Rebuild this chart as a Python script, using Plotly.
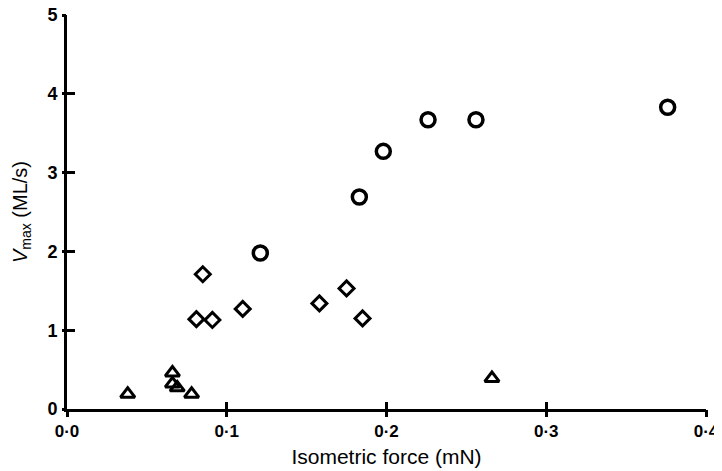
import plotly.graph_objects as go

# Data
circle_x = [0.121, 0.183, 0.198, 0.226, 0.256, 0.376]
circle_y = [1.98, 2.69, 3.27, 3.67, 3.67, 3.83]

diamond_x = [0.085, 0.081, 0.091, 0.110, 0.158, 0.175, 0.185]
diamond_y = [1.71, 1.14, 1.13, 1.27, 1.34, 1.53, 1.15]

triangle_x = [0.038, 0.066, 0.066, 0.069, 0.078, 0.266]
triangle_y = [0.19, 0.46, 0.32, 0.27, 0.19, 0.39]

x_tickvals = [0.0, 0.1, 0.2, 0.3, 0.4]
x_ticktext = ["0·0", "0·1", "0·2", "0·3", "0·4"]
y_tickvals = [0, 1, 2, 3, 4, 5]
y_ticktext = ["0", "1", "2", "3", "4", "5"]

FONT = "Liberation Sans, Arial, sans-serif"

fig = go.Figure()
fig.add_trace(go.Scatter(x=circle_x, y=circle_y, mode="markers",
                         marker=dict(symbol="circle-open", size=14, color="black",
                                     line=dict(width=3.5, color="black")),
                         cliponaxis=False))
fig.add_trace(go.Scatter(x=diamond_x, y=diamond_y, mode="markers",
                         marker=dict(symbol="diamond-open", size=11.5, color="black",
                                     line=dict(width=3, color="black")),
                         cliponaxis=False))
fig.add_trace(go.Scatter(x=triangle_x, y=triangle_y, mode="markers",
                         marker=dict(symbol="triangle-up-open", size=12.5, color="black",
                                     line=dict(width=3, color="black")),
                         cliponaxis=False))
# invisible trace on the overlay axes so their outside tick marks render
fig.add_trace(go.Scatter(x=[0.2], y=[2.5], xaxis="x2", yaxis="y2",
                         mode="markers", marker=dict(opacity=0), hoverinfo="skip"))

axis_common = dict(showgrid=False, zeroline=False, color="black", automargin=False,
                   ticklabeloverflow="allow")

# The page body has an 8px margin, so the figure is sized/offset to compensate.
fig.update_layout(
    width=714, height=463,
    margin=dict(l=59, r=16, t=7, b=62),
    paper_bgcolor="white", plot_bgcolor="white",
    showlegend=False,
    font=dict(family=FONT, color="black"),
    xaxis=dict(range=[0, 0.4], tickvals=x_tickvals, ticktext=x_ticktext,
               ticks="inside", ticklen=7, tickwidth=3, tickcolor="black",
               showline=True, linewidth=3, linecolor="black",
               ticklabelstandoff=5,
               tickfont=dict(size=17, family=FONT, weight="bold"),
               title=dict(text="Isometric force (mN)", font=dict(size=21, family=FONT), standoff=9),
               **axis_common),
    yaxis=dict(range=[0, 5], tickvals=y_tickvals, ticktext=y_ticktext,
               ticks="inside", ticklen=8, tickwidth=3, tickcolor="black",
               showline=True, linewidth=3, linecolor="black",
               ticklabelstandoff=3,
               tickfont=dict(size=18, family=FONT, weight="bold"),
               title=dict(text="<i>V</i><sub>max</sub> (ML/s)", font=dict(size=20, family=FONT), standoff=15),
               **axis_common),
    xaxis2=dict(range=[0, 0.4], tickvals=x_tickvals, showticklabels=False,
                ticks="outside", ticklen=7, tickwidth=3, tickcolor="black",
                overlaying="x", side="bottom", anchor="y", showline=False,
                **axis_common),
    yaxis2=dict(range=[0, 5], tickvals=y_tickvals, showticklabels=False,
                ticks="outside", ticklen=4, tickwidth=3, tickcolor="black",
                overlaying="y", side="left", anchor="x", showline=False,
                **axis_common),
)

fig.write_html("out.html")
